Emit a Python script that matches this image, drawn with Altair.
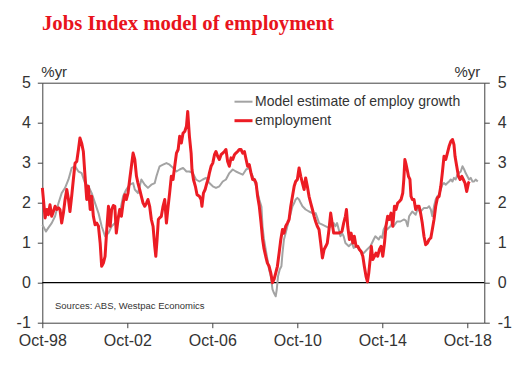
import altair as alt
import pandas as pd

# ---- data (decimal years, % yr) ----
emp_year = [1998.75, 1998.88, 1998.96, 1999.03, 1999.11, 1999.19, 1999.27, 1999.35, 1999.43, 1999.51,
            1999.58, 1999.66, 1999.74, 1999.82, 1999.90, 1999.98, 2000.05, 2000.13, 2000.21, 2000.29,
            2000.37, 2000.45, 2000.52, 2000.60, 2000.68, 2000.76, 2000.84, 2000.92, 2001.00, 2001.07,
            2001.15, 2001.23, 2001.31, 2001.39, 2001.47, 2001.54, 2001.62, 2001.70, 2001.78, 2001.86,
            2001.94, 2002.01, 2002.09, 2002.16, 2002.23, 2002.31, 2002.39, 2002.47, 2002.55, 2002.63,
            2002.70, 2002.78, 2002.86, 2002.94, 2003.02, 2003.10, 2003.18, 2003.25, 2003.33, 2003.41,
            2003.49, 2003.57, 2003.65, 2003.72, 2003.80, 2003.88, 2003.96, 2004.04, 2004.09, 2004.15,
            2004.21, 2004.27, 2004.35, 2004.43, 2004.51, 2004.59, 2004.67, 2004.74, 2004.82, 2004.90,
            2004.98, 2005.06, 2005.14, 2005.21, 2005.29, 2005.37, 2005.45, 2005.53, 2005.59, 2005.67,
            2005.75, 2005.79, 2005.86, 2005.95, 2006.03, 2006.14, 2006.22, 2006.26, 2006.33, 2006.41,
            2006.49, 2006.55, 2006.61, 2006.69, 2006.77, 2006.85, 2006.92, 2007.00, 2007.08, 2007.16,
            2007.24, 2007.32, 2007.39, 2007.47, 2007.55, 2007.63, 2007.71, 2007.79, 2007.86, 2007.94,
            2008.02, 2008.10, 2008.18, 2008.26, 2008.34, 2008.41, 2008.49, 2008.57, 2008.65, 2008.73,
            2008.81, 2008.88, 2008.96, 2009.04, 2009.11, 2009.18, 2009.26, 2009.34, 2009.42, 2009.50,
            2009.58, 2009.65, 2009.73, 2009.81, 2009.89, 2009.97, 2010.05, 2010.12, 2010.20, 2010.28,
            2010.36, 2010.44, 2010.52, 2010.60, 2010.67, 2010.75, 2010.83, 2010.91, 2010.99, 2011.07,
            2011.14, 2011.22, 2011.30, 2011.38, 2011.46, 2011.54, 2011.61, 2011.69, 2011.77, 2011.85,
            2011.93, 2012.01, 2012.09, 2012.16, 2012.24, 2012.32, 2012.40, 2012.46, 2012.54, 2012.70,
            2012.85, 2012.93, 2013.01, 2013.06, 2013.12, 2013.20, 2013.28, 2013.36, 2013.43, 2013.51,
            2013.59, 2013.67, 2013.75, 2013.83, 2013.90, 2013.98, 2014.05, 2014.11, 2014.19, 2014.23,
            2014.30, 2014.38, 2014.45, 2014.53, 2014.61, 2014.69, 2014.77, 2014.85, 2014.92, 2015.00,
            2015.08, 2015.16, 2015.24, 2015.32, 2015.39, 2015.47, 2015.55, 2015.63, 2015.71, 2015.76,
            2015.81, 2015.87, 2015.93, 2015.98, 2016.05, 2016.10, 2016.16, 2016.24, 2016.32, 2016.40,
            2016.48, 2016.55, 2016.63, 2016.71, 2016.79, 2016.87, 2016.95, 2017.03, 2017.10, 2017.18,
            2017.26, 2017.34, 2017.42, 2017.50, 2017.57, 2017.65, 2017.73, 2017.81, 2017.89, 2017.97,
            2018.05, 2018.12, 2018.17, 2018.25, 2018.33, 2018.41, 2018.49, 2018.56, 2018.64, 2018.72,
            2018.80, 2018.84]
emp_val = [2.37, 1.62, 1.83, 1.70, 1.95, 1.66, 1.78, 1.91, 1.83, 1.87,
           1.83, 1.49, 1.74, 2.08, 2.33, 2.08, 1.78, 2.16, 2.58, 2.99,
           3.03, 3.33, 3.62, 3.49, 3.28, 2.66, 2.08, 2.41, 1.83, 2.16,
           1.66, 1.45, 1.49, 1.41, 0.99, 0.41, 0.49, 0.66, 1.33, 1.91,
           1.41, 1.83, 1.93, 1.91, 1.24, 1.58, 1.83, 1.66, 1.99, 2.20,
           2.08, 2.24, 2.58, 2.91, 3.24, 3.08, 2.66, 2.49, 2.33, 2.16,
           1.99, 1.91, 1.99, 2.08, 1.91, 1.58, 1.41, 0.91, 0.66, 1.08,
           1.58, 1.62, 1.66, 1.91, 2.08, 1.49, 1.91, 2.24, 2.66, 2.58,
           2.91, 3.24, 3.33, 3.66, 3.49, 3.74, 3.78, 3.91, 4.28, 3.66,
           3.24, 2.83, 2.58, 2.41, 2.20, 2.16, 2.08, 1.91, 2.24, 2.33,
           2.49, 2.58, 2.74, 2.91, 2.99, 3.20, 3.28, 3.16, 3.08, 3.20,
           3.24, 3.28, 3.33, 3.03, 2.91, 3.12, 3.08, 3.20, 3.24, 3.28,
           3.33, 3.33, 3.24, 3.28, 3.08, 2.91, 2.95, 2.74, 2.58, 2.58,
           2.49, 2.16, 1.91, 1.50, 1.10, 0.85, 0.66, 0.49, 0.41, 0.24,
           0.00, 0.08, 0.24, 0.41, 0.74, 1.08, 1.33, 1.24, 1.41, 1.49,
           1.58, 1.91, 2.16, 2.41, 2.53, 2.58, 2.87, 2.66, 2.49, 2.33,
           2.62, 2.41, 2.16, 1.99, 1.83, 1.66, 1.53, 1.41, 1.33, 0.99,
           0.62, 0.83, 0.91, 0.99, 1.33, 1.74, 1.45, 1.24, 1.24, 1.24,
           1.28, 1.49, 1.66, 1.83, 1.41, 1.08, 1.24, 0.99, 1.16, 0.91,
           0.91, 0.83, 0.78, 0.66, 0.41, 0.16, 0.02, 0.24, 0.66, 0.91,
           0.58, 0.66, 0.74, 0.66, 0.83, 0.91, 0.66, 0.99, 1.41, 1.66,
           1.58, 1.74, 1.41, 1.91, 1.83, 1.99, 2.03, 2.08, 2.24, 2.58,
           3.08, 2.95, 2.80, 2.66, 2.58, 2.16, 2.08, 2.08, 1.83, 1.91,
           1.91, 1.74, 1.49, 1.16, 0.95, 0.99, 1.08, 1.12, 1.33, 1.58,
           1.91, 2.12, 2.16, 2.41, 2.74, 3.16, 3.08, 3.24, 3.41, 3.53,
           3.58, 3.45, 3.16, 2.91, 2.66, 2.58, 2.66, 2.58, 2.49, 2.28,
           2.49, 2.53]

model_year = [1998.75, 1998.92, 1999.03, 1999.19, 1999.35, 1999.51, 1999.66, 1999.82, 1999.98, 2000.13,
              2000.29, 2000.45, 2000.60, 2000.76, 2000.92, 2001.07, 2001.23, 2001.39, 2001.54, 2001.70,
              2001.86, 2002.01, 2002.17, 2002.39, 2002.55, 2002.70, 2002.86, 2003.02, 2003.10, 2003.25,
              2003.33, 2003.41, 2003.57, 2003.72, 2003.88, 2004.04, 2004.12, 2004.19, 2004.27, 2004.43,
              2004.59, 2004.74, 2004.90, 2005.06, 2005.21, 2005.37, 2005.53, 2005.67, 2005.83, 2005.98,
              2006.14, 2006.30, 2006.45, 2006.61, 2006.77, 2006.92, 2007.08, 2007.24, 2007.39, 2007.55,
              2007.71, 2007.86, 2008.02, 2008.18, 2008.34, 2008.49, 2008.65, 2008.81, 2008.96, 2009.06,
              2009.11, 2009.18, 2009.26, 2009.34, 2009.42, 2009.50, 2009.58, 2009.65, 2009.73, 2009.78,
              2009.84, 2009.92, 2010.00, 2010.05, 2010.12, 2010.20, 2010.28, 2010.36, 2010.44, 2010.52,
              2010.60, 2010.67, 2010.75, 2010.83, 2010.91, 2010.99, 2011.14, 2011.30, 2011.46, 2011.54,
              2011.61, 2011.69, 2011.77, 2011.93, 2012.09, 2012.24, 2012.40, 2012.46, 2012.54, 2012.62,
              2012.70, 2012.78, 2012.85, 2012.93, 2013.01, 2013.17, 2013.32, 2013.40, 2013.56, 2013.72,
              2013.87, 2014.03, 2014.19, 2014.34, 2014.42, 2014.58, 2014.66, 2014.74, 2014.81, 2014.89,
              2014.97, 2015.13, 2015.21, 2015.28, 2015.44, 2015.60, 2015.76, 2015.86, 2015.94, 2016.01,
              2016.16, 2016.32, 2016.40, 2016.55, 2016.71, 2016.87, 2016.95, 2017.03, 2017.10, 2017.18,
              2017.26, 2017.34, 2017.42, 2017.50, 2017.57, 2017.65, 2017.73, 2017.81, 2017.89, 2017.97,
              2018.05, 2018.12, 2018.20, 2018.28, 2018.36, 2018.44, 2018.52, 2018.60, 2018.67, 2018.75,
              2018.83, 2018.91, 2018.99, 2019.07, 2019.14, 2019.24]
model_val = [1.45, 1.28, 1.37, 1.49, 1.66, 1.99, 2.24, 2.37, 2.58, 2.87,
             2.91, 2.78, 2.74, 2.49, 2.41, 2.24, 1.99, 1.74, 1.41, 1.16,
             1.24, 1.41, 1.49, 1.74, 2.16, 2.33, 2.45, 2.49, 2.33, 2.24,
             2.41, 2.58, 2.45, 2.37, 2.45, 2.49, 2.66, 2.78, 2.91, 2.95,
             2.99, 2.95, 2.87, 2.78, 2.83, 2.87, 2.78, 2.78, 2.74, 2.58,
             2.53, 2.58, 2.62, 2.49, 2.41, 2.37, 2.41, 2.53, 2.58, 2.74,
             2.83, 2.78, 2.74, 2.70, 2.83, 2.87, 2.66, 2.41, 2.08, 1.90,
             1.41, 1.08, 0.83, 0.58, 0.33, 0.16, -0.17, -0.26, -0.34, -0.17,
             0.16, 0.33, 0.41, 0.74, 1.08, 1.24, 1.41, 1.58, 1.74, 1.91,
             1.99, 2.08, 2.12, 2.08, 1.99, 1.91, 1.83, 1.78, 1.74, 1.70,
             1.74, 1.62, 1.49, 1.45, 1.41, 1.37, 1.45, 1.49, 1.41, 1.49,
             1.33, 1.16, 1.24, 1.16, 0.99, 0.91, 0.99, 0.87, 0.91, 0.78,
             0.74, 0.83, 0.91, 1.08, 1.16, 1.08, 1.16, 1.12, 1.33, 1.41,
             1.33, 1.41, 1.49, 1.41, 1.53, 1.53, 1.58, 1.55, 1.41, 1.66,
             1.78, 1.70, 1.83, 1.78, 1.87, 1.87, 1.91, 1.83, 1.66, 1.91,
             2.08, 2.16, 2.20, 2.33, 2.45, 2.49, 2.45, 2.49, 2.53, 2.58,
             2.53, 2.62, 2.58, 2.70, 2.74, 2.78, 2.91, 2.83, 2.74, 2.66,
             2.58, 2.62, 2.53, 2.53, 2.58, 2.53]

series_names = ["Model estimate of employ growth", "employment"]
series_colors = ["#a3a3a3", "#ec1c24"]
series_widths = [2.0, 3.0]

x_tick_years = [1998, 2002, 2006, 2010, 2014, 2018]   # October of each
y_ticks = [-1, 0, 1, 2, 3, 4, 5]
x_end = (2019, 7, 20)

title_text = "Jobs Index model of employment"
unit_text = "%yr"
source_text = "Sources: ABS, Westpac Economics"


def to_date(y):
    base = pd.Timestamp(year=int(y), month=1, day=1)
    return base + pd.to_timedelta((y - int(y)) * 365.25, unit="D")


model_df = pd.DataFrame({"date": [to_date(y) for y in model_year], "value": model_val,
                         "series": series_names[0]})
emp_df = pd.DataFrame({"date": [to_date(y) for y in emp_year], "value": emp_val,
                       "series": series_names[1]})

FONT = "Liberation Sans"
TXT = "#333333"
AX = "#404040"

x_vals = [alt.DateTime(year=y, month=10, date=1) for y in x_tick_years]
x_scale = alt.Scale(domain=[alt.DateTime(year=1998, month=10, date=1),
                            alt.DateTime(year=x_end[0], month=x_end[1], date=x_end[2])])
y_scale = alt.Scale(domain=[-1, 5], nice=False, zero=False)

x_enc = alt.X("date:T", scale=x_scale, title=None,
              axis=alt.Axis(values=x_vals, format="%b-%y", labelFontSize=16, labelColor=TXT,
                            labelFont=FONT, tickSize=5, tickColor=AX, labelPadding=5,
                            labelFlush=False, labelOverlap=False, domain=False, grid=False))

legend_spec = dict(orient="none", legendX=190.7, legendY=9, title=None,
                   padding=0, symbolType="stroke", symbolSize=324,
                   labelFontSize=14, labelColor=TXT, labelFont=FONT,
                   labelOffset=1, rowPadding=1.5, labelLimit=0)

color_enc = alt.Color("series:N", scale=alt.Scale(domain=series_names, range=series_colors),
                      legend=alt.Legend(**legend_spec))
width_enc = alt.StrokeWidth("series:N", scale=alt.Scale(domain=series_names, range=series_widths),
                            legend=alt.Legend(**legend_spec))

label_expr = "'' + datum.value"
left_axis = alt.Axis(values=y_ticks, orient="left", labelFontSize=16, labelColor=TXT, labelFont=FONT,
                     tickSize=5, tickColor=AX, labelPadding=7, domain=False, grid=False,
                     labelExpr=label_expr)
right_axis = alt.Axis(values=y_ticks, orient="right", labelFontSize=16, labelColor=TXT, labelFont=FONT,
                      tickSize=5, tickColor=AX, labelPadding=8, domain=False, grid=False,
                      labelExpr=label_expr)

zero_rule = alt.Chart(pd.DataFrame({"v": [0]})).mark_rule(color="#000000", strokeWidth=1.3).encode(
    y=alt.Y("v:Q", scale=y_scale, axis=None))

grey_line = alt.Chart(model_df).mark_line(strokeJoin="round").encode(
    x=x_enc, y=alt.Y("value:Q", scale=y_scale, axis=right_axis, title=None),
    color=color_enc, strokeWidth=width_enc)

red_line = alt.Chart(emp_df).mark_line(strokeJoin="round").encode(
    x=x_enc, y=alt.Y("value:Q", scale=y_scale, axis=left_axis, title=None),
    color=color_enc, strokeWidth=width_enc)

text_df = pd.DataFrame({"t": [title_text]})
title_mark = alt.Chart(text_df).mark_text(
    text=title_text, font="Liberation Serif", fontWeight="bold", fontSize=20.7,
    color="#e8141c", align="left", baseline="alphabetic").encode(
    x=alt.value(-0.3), y=alt.value(-52.7))

unit_left = alt.Chart(text_df).mark_text(
    text=unit_text, font=FONT, fontSize=15, color=TXT, align="left", baseline="alphabetic").encode(
    x=alt.value(-1), y=alt.value(-5.5))
unit_right = alt.Chart(text_df).mark_text(
    text=unit_text, font=FONT, fontSize=15, color=TXT, align="right", baseline="alphabetic").encode(
    x=alt.value(438), y=alt.value(-5.5))
source_mark = alt.Chart(text_df).mark_text(
    text=source_text, font=FONT, fontSize=9.5, color=TXT, align="left", baseline="alphabetic").encode(
    x=alt.value(12.7), y=alt.value(226.3))

chart = alt.layer(zero_rule, grey_line, red_line, title_mark, unit_left, unit_right, source_mark).resolve_scale(
    y="independent"
).properties(
    width=442, height=240,
    autosize=alt.AutoSizeParams(type="none"),
    padding={"left": 34.3, "top": 74.7, "right": 34, "bottom": 35},
).configure_view(stroke=AX, strokeWidth=1)

chart.save("out.html", embed_options={"renderer": "svg", "actions": False})
